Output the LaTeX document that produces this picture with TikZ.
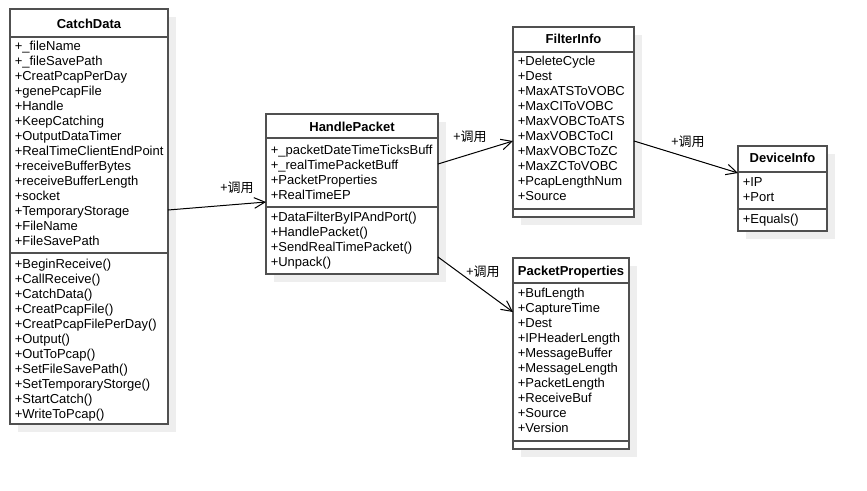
\documentclass[tikz,border=0pt]{standalone}
\usepackage{fontspec}
\setmainfont{Liberation Sans}
\newfontfamily\cjk{Noto Sans CJK SC}
\usetikzlibrary{arrows.meta,fit}
\definecolor{boxc}{RGB}{80,80,80}
\definecolor{shadowc}{RGB}{238,238,238}
\begin{document}
\begin{tikzpicture}[x=0.75pt,y=-0.75pt,
  box/.style={draw=boxc, line width=1.1pt, fill=white, inner sep=0pt, outer sep=0pt},
  sep/.style={draw=boxc, line width=1.1pt},
  ttl/.style={font=\fontsize{9.75}{11}\selectfont\bfseries, anchor=base, inner sep=0pt},
  mem/.style={font=\fontsize{9.75}{11}\selectfont, anchor=base west, inner sep=0pt},
  call/.style={draw=black, line width=0.75pt, -{Straight Barb[length=8pt,width=8pt]}},
  lbl/.style={font=\cjk\fontsize{9.75}{11}\selectfont, inner sep=0pt}]

\useasboundingbox[fill=white] (0,0) rectangle (867,490);

% shadows
\fill[shadowc] (18,17) rectangle (176,432);
\fill[shadowc] (274,122) rectangle (446,282);
\fill[shadowc] (521,35) rectangle (642,225);
\fill[shadowc] (521,266) rectangle (637,457);
\fill[shadowc] (746,154) rectangle (835,239);

% CatchData
\node[box, fit={(10,9) (168,424)}] (cd) {};
\draw[sep] (cd.west |- 0,37) -- (cd.east |- 0,37);
\draw[sep] (cd.west |- 0,253) -- (cd.east |- 0,253);
\node[ttl] (cdT) at (89,28) {CatchData};
\foreach \t [count=\i from 0] in {+\_fileName,+\_fileSavePath,+CreatPcapPerDay,+genePcapFile,+Handle,+KeepCatching,+OutputDataTimer,+RealTimeClientEndPoint,+receiveBufferBytes,+receiveBufferLength,+socket,+TemporaryStorage,+FileName,+FileSavePath}
  \node[mem] (cdA\i) at (14.5,50+15*\i) {\t};
\foreach \t [count=\i from 0] in {+BeginReceive(),+CallReceive(),+CatchData(),+CreatPcapFile(),+CreatPcapFilePerDay(),+Output(),+OutToPcap(),+SetFileSavePath(),+SetTemporaryStorge(),+StartCatch(),+WriteToPcap()}
  \node[mem] (cdM\i) at (14.5,268+15*\i) {\t};

% HandlePacket
\node[box, fit={(266,114) (438,274)}] (hp) {};
\draw[sep] (hp.west |- 0,138) -- (hp.east |- 0,138);
\draw[sep] (hp.west |- 0,207) -- (hp.east |- 0,207);
\node[ttl] (hpT) at (352,131) {HandlePacket};
\foreach \t [count=\i from 0] in {+\_packetDateTimeTicksBuff,+\_realTimePacketBuff,+PacketProperties,+RealTimeEP}
  \node[mem] (hpA\i) at (270.5,154+15*\i) {\t};
\foreach \t [count=\i from 0] in {+DataFilterByIPAndPort(),+HandlePacket(),+SendRealTimePacket(),+Unpack()}
  \node[mem] (hpM\i) at (270.5,221.5+15*\i) {\t};

% FilterInfo
\node[box, fit={(513,27) (634,217)}] (fi) {};
\draw[sep] (fi.west |- 0,52) -- (fi.east |- 0,52);
\draw[sep] (fi.west |- 0,209) -- (fi.east |- 0,209);
\node[ttl] (fiT) at (573.5,43) {FilterInfo};
\foreach \t [count=\i from 0] in {+DeleteCycle,+Dest,+MaxATSToVOBC,+MaxCIToVOBC,+MaxVOBCToATS,+MaxVOBCToCI,+MaxVOBCToZC,+MaxZCToVOBC,+PcapLengthNum,+Source}
  \node[mem] (fiA\i) at (517.5,65.5+15*\i) {\t};

% PacketProperties
\node[box, fit={(513,258) (629,449)}] (pp) {};
\draw[sep] (pp.west |- 0,283) -- (pp.east |- 0,283);
\draw[sep] (pp.west |- 0,441) -- (pp.east |- 0,441);
\node[ttl] (ppT) at (571,275.5) {PacketProperties};
\foreach \t [count=\i from 0] in {+BufLength,+CaptureTime,+Dest,+IPHeaderLength,+MessageBuffer,+MessageLength,+PacketLength,+ReceiveBuf,+Source,+Version}
  \node[mem] (ppA\i) at (517.5,297.5+15*\i) {\t};

% DeviceInfo
\node[box, fit={(738,146) (827,231)}] (di) {};
\draw[sep] (di.west |- 0,172) -- (di.east |- 0,172);
\draw[sep] (di.west |- 0,209) -- (di.east |- 0,209);
\node[ttl] (diT) at (782.5,162.5) {DeviceInfo};
\node[mem] (diA0) at (742.5,186.5) {+IP};
\node[mem] (diA1) at (742.5,201.5) {+Port};
\node[mem] (diM0) at (742.5,223.5) {+Equals()};

% connectors
\draw[call] (cd.east |- 0,210) -- (hp.west |- 0,202);
\node[lbl] (l1) at (237,188) {+调用};
\draw[call] (hp.east |- 0,164) -- (fi.west |- 0,141);
\node[lbl] (l2) at (470,137) {+调用};
\draw[call] (hp.east |- 0,257) -- (pp.west |- 0,312);
\node[lbl] (l3) at (483,272) {+调用};
\draw[call] (fi.east |- 0,141) -- (di.west |- 0,173);
\node[lbl] (l4) at (688,142) {+调用};
\end{tikzpicture}
\end{document}
